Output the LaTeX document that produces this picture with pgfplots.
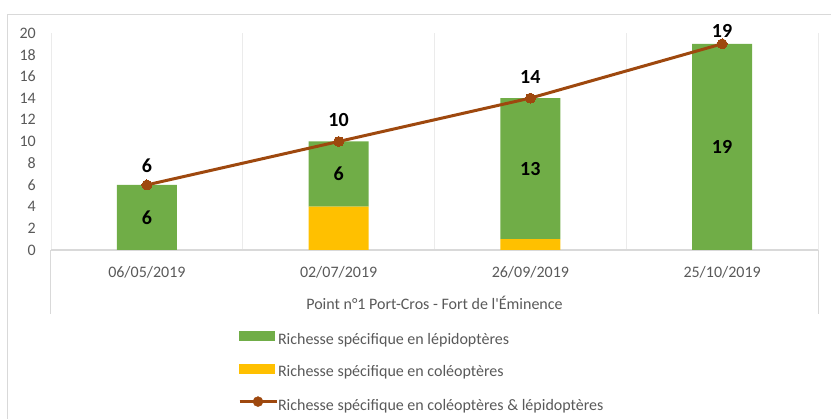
\documentclass[border=0pt]{standalone}
\usepackage{fontspec}
\setmainfont{Carlito}
\usepackage{pgfplots}
\usepackage{pgfplotstable}
\pgfplotsset{compat=1.18}
\definecolor{lepi}{HTML}{70AD47}
\definecolor{cole}{HTML}{FFC000}
\definecolor{totc}{HTML}{9E480E}
\definecolor{txtgray}{HTML}{595959}
\definecolor{axgray}{HTML}{D9D9D9}
\definecolor{gridgray}{HTML}{EBEBEB}

% cole = coleopteres, lep = lepidopteres, tot = total, mid = middle of green segment
\pgfplotstableread{
x cole lep tot mid dy
0 0 6 6 3 19
1 4 6 10 7 21
2 1 13 14 7.5 21
3 0 19 19 9.5 13
}\datatab

\pgfplotsset{
  common/.style={
    at={(51pt,169pt)}, anchor=south west,
    width=767pt, height=217pt, scale only axis,
    xmin=-0.5, xmax=3.5, ymin=0, ymax=20,
    clip=false,
    /pgf/number format/assume math mode=true,
  },
}

\begin{document}
\begin{tikzpicture}[x=1pt,y=1pt]
\path[use as bounding box] (0,0) rectangle (831,419);
\draw[axgray, line width=1.5pt] (7.5,0) -- (7.5,404.5) -- (831,404.5);

\begin{axis}[common, ybar stacked, bar width=60pt,
  axis line style={draw=none},
  xtick={0,1,2,3},
  xticklabels={06/05/2019,02/07/2019,26/09/2019,25/10/2019},
  minor xtick={-0.5,0.5,1.5,2.5,3.5},
  xminorgrids, minor grid style={gridgray, line width=0.8pt},
  major tick length=0pt, minor tick length=0pt,
  ytick={0,2,...,20},
  tick label style={font=\fontsize{16}{19}\selectfont, text=txtgray, inner sep=0pt},
  yticklabel style={anchor=east, xshift=-15pt},
  xticklabel style={anchor=base, yshift=-27.5pt},
]
\addplot[fill=cole, draw=none] table[x=x, y=cole] {\datatab};
\addplot[fill=lepi, draw=none] table[x=x, y=lep] {\datatab};
\draw[axgray, line width=1.3pt] (rel axis cs:0,0) -- (rel axis cs:1,0);
\draw[axgray, line width=1pt] (rel axis cs:0,0) -- ([yshift=-64pt]rel axis cs:0,0);
\draw[axgray, line width=1pt] (rel axis cs:1,0) -- ([yshift=-64pt]rel axis cs:1,0);
\end{axis}

\begin{axis}[common, axis lines=none, ticks=none,
  legend cell align=left,
  legend style={at={(axis description cs:0.2438,-0.3733)}, anchor=north west,
    draw=none, fill=none, inner sep=0pt, outer sep=0pt,
    font=\fontsize{16}{19}\selectfont, text=txtgray,
    row sep=15.5pt, column sep=0pt,
    nodes={inner sep=0pt, text height=12pt, text depth=4pt}},
]
% labels of the green segments
\addplot[draw=none, mark=none, nodes near coords, point meta=explicit,
  every node near coord/.style={anchor=center,
    font=\fontsize{20}{24}\selectfont\bfseries, text=black, inner sep=0pt},
  forget plot]
  table[x=x, y=mid, meta=lep] {\datatab};
\addplot[totc, line width=3pt, mark=*, mark size=5pt,
  mark options={fill=totc, draw=totc, line width=0pt},
  nodes near coords, point meta=explicit,
  visualization depends on={\thisrow{dy}\as\dyv},
  every node near coord/.style={anchor=center, yshift=\dyv pt,
    font=\fontsize{20}{24}\selectfont\bfseries, text=black, inner sep=0pt},
  forget plot]
  table[x=x, y=tot, meta=tot] {\datatab};
\addlegendimage{legend image code/.code={\fill[lepi] (0pt,0pt) rectangle (35pt,9pt);}}
\addlegendentry{Richesse spécifique en lépidoptères}
\addlegendimage{legend image code/.code={\fill[cole] (0pt,0pt) rectangle (35pt,9pt);}}
\addlegendentry{Richesse spécifique en coléoptères}
\addlegendimage{legend image code/.code={\draw[totc, line width=3pt] (0pt,5pt) -- (37pt,5pt); \fill[totc] (18.5pt,5pt) circle (5pt);}}
\addlegendentry{Richesse spécifique en coléoptères \& lépidoptères}
\end{axis}

\node[anchor=base, font=\fontsize{16}{19}\selectfont, text=txtgray, inner sep=0pt]
  at (434.5,109.5) {Point n°1 Port-Cros - Fort de l\textquotesingle Éminence};
\end{tikzpicture}
\end{document}
